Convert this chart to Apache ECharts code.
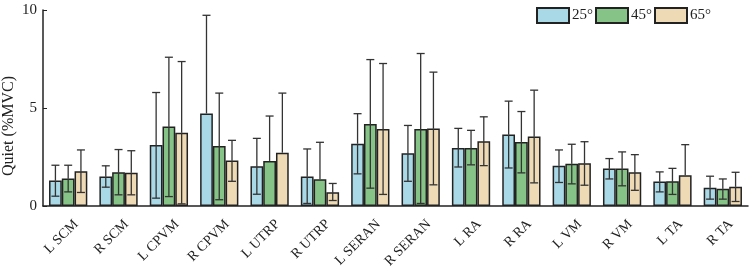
<!DOCTYPE html>
<html>
<head>
<meta charset="utf-8">
<script src="https://cdn.jsdelivr.net/npm/echarts@6/dist/echarts.min.js"></script>
<style>
  html, body { margin: 0; padding: 0; background: #fff; }
  #chart { width: 749px; height: 267px; }
</style>
</head>
<body>
<div id="chart"></div>
<script>
// categories and tick labels
const categories = ['L SCM', 'R SCM', 'L CPVM', 'R CPVM', 'L UTRP', 'R UTRP', 'L SERAN',
  'R SERAN', 'L RA', 'R RA', 'L VM', 'R VM', 'L TA', 'R TA'];
const yTicks = [0, 5, 10];
const seriesNames = ['25°', '45°', '65°'];

// mean values
const mean25 = [1.30, 1.50, 3.11, 4.72, 2.03, 1.50, 3.18, 2.69, 2.96, 3.65, 2.05, 1.91, 1.25, 0.93];
const mean45 = [1.40, 1.72, 4.06, 3.06, 2.30, 1.36, 4.18, 3.93, 2.96, 3.27, 2.15, 1.91, 1.26, 0.88];
const mean65 = [1.77, 1.70, 3.74, 2.32, 2.72, 0.70, 3.93, 3.96, 3.30, 3.54, 2.18, 1.72, 1.57, 0.98];

// error bar ends (null = lower half not drawn)
const high25 = [2.08, 2.05, 5.79, 9.73, 3.45, 2.91, 4.71, 4.11, 3.96, 5.35, 2.86, 2.42, 1.74, 1.52];
const low25  = [0.50, 0.96, 0.40, null, 0.60, 0.13, 1.64, 1.26, 1.99, 1.94, 1.20, 1.38, 0.72, 0.35];
const high45 = [2.08, 2.88, 7.59, 5.76, 4.59, 3.25, 7.47, 7.78, 3.86, 4.82, 3.15, 2.76, 1.92, 1.38];
const low45  = [0.72, 0.57, 0.48, 0.32, null, null, 0.91, 0.13, 2.10, 1.69, 1.13, 1.03, 0.59, 0.35];
const high65 = [2.86, 2.82, 7.37, 3.35, 5.76, 1.15, 7.27, 6.83, 4.55, 5.91, 3.28, 2.62, 3.13, 1.72];
const low65  = [0.69, 0.57, 0.11, 1.26, null, 0.28, 0.59, 1.08, 2.06, 1.18, 1.06, 0.80, null, 0.23];

const means = [mean25, mean45, mean65];
const highs = [high25, high45, high65];
const lows = [low25, low45, low65];
const colors = ['#a9d8e7', '#86c386', '#efdab6'];

const chart = echarts.init(document.getElementById('chart'));

function errorRenderer(j) {
  return function (params, api) {
    const c = api.value(0);
    const m = api.value(1);
    const hi = api.value(2);
    const lo = api.value(3);
    const band = api.size([1, 0])[0];
    const bw = band * 0.76 / 3;
    const x = api.coord([c, 0])[0] + (j - 1) * bw;
    const yh = api.coord([c, hi])[1];
    const ym = api.coord([c, m])[1];
    const style = { stroke: '#333', lineWidth: 1.3 };
    const hw = 4;
    const kids = [
      { type: 'line', shape: { x1: x, y1: yh, x2: x, y2: ym }, style: style },
      { type: 'line', shape: { x1: x - hw, y1: yh, x2: x + hw, y2: yh }, style: style }
    ];
    if (!isNaN(lo)) {
      const yl = api.coord([c, lo])[1];
      kids.push({ type: 'line', shape: { x1: x, y1: ym, x2: x, y2: yl }, style: style });
      kids.push({ type: 'line', shape: { x1: x - hw, y1: yl, x2: x + hw, y2: yl }, style: style });
    }
    return { type: 'group', children: kids };
  };
}

const series = [];
seriesNames.forEach(function (name, j) {
  series.push({
    name: name,
    type: 'bar',
    data: means[j],
    barGap: '0%',
    barCategoryGap: '24%',
    itemStyle: { color: colors[j], borderColor: '#222', borderWidth: 1.5 },
    z: 2
  });
});
seriesNames.forEach(function (name, j) {
  series.push({
    type: 'custom',
    renderItem: errorRenderer(j),
    data: categories.map(function (c, i) {
      return [i, means[j][i], highs[j][i], lows[j][i] === null ? '-' : lows[j][i]];
    }),
    encode: { x: 0, y: [1, 2] },
    z: 5,
    silent: true
  });
});

// labels sit a little right of the category centres in the original,
// so they get their own (shifted) grid
const labelShift = 8;

const option = {
  animation: false,
  textStyle: { fontFamily: 'Liberation Serif' },
  grid: [
    { left: 43, right: 1, top: 10, bottom: 61, containLabel: false, outerBoundsMode: 'none' },
    { left: 43 + labelShift, right: 1 - labelShift, top: 10, bottom: 61, containLabel: false, outerBoundsMode: 'none' }
  ],
  legend: {
    data: seriesNames,
    right: 33,
    top: 2,
    itemWidth: 32,
    itemHeight: 15,
    itemGap: 2,
    icon: 'rect',
    textStyle: { fontFamily: 'Liberation Serif', fontSize: 15, color: '#222', padding: [0, 0, 0, -2] }
  },
  xAxis: [
    {
      type: 'category',
      data: categories,
      axisLine: { lineStyle: { color: '#222', width: 1.5 } },
      axisTick: { inside: true, length: 4, lineStyle: { color: '#222' } },
      axisLabel: { show: false }
    },
    {
      type: 'category',
      gridIndex: 1,
      data: categories,
      axisLine: { show: false },
      axisTick: { show: false },
      axisLabel: {
        rotate: 45, fontSize: 14, color: '#222', margin: 16, fontFamily: 'Liberation Serif'
      }
    }
  ],
  yAxis: [
    {
      type: 'value',
      min: 0,
      max: 10,
      interval: 5,
      name: 'Quiet (%MVC)',
      nameLocation: 'middle',
      nameGap: 26,
      nameMoveOverlap: false,
      nameTextStyle: { fontSize: 16, color: '#222', fontFamily: 'Liberation Serif', padding: [0, 36, 0, 0] },
      splitLine: { show: false },
      axisLine: { show: true, lineStyle: { color: '#222', width: 1.5 } },
      axisTick: { show: true, inside: true, length: 4, lineStyle: { color: '#222' } },
      axisLabel: {
        fontSize: 15, color: '#222', margin: 6, fontFamily: 'Liberation Serif',
        formatter: function (v) { return yTicks.indexOf(v) >= 0 ? String(v) : ''; }
      }
    },
    { type: 'value', gridIndex: 1, min: 0, max: 10, show: false }
  ],
  series: series
};

option && chart.setOption(option);
</script>
</body>
</html>
